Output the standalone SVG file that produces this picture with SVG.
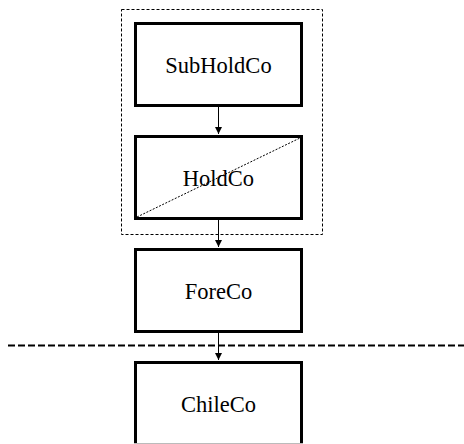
<svg xmlns="http://www.w3.org/2000/svg" width="464" height="444" viewBox="0 0 464 444">
<defs>
<marker id="ah" markerWidth="8" markerHeight="8" refX="7" refY="4" orient="auto" markerUnits="userSpaceOnUse">
<path d="M0,0.5 L7,4 L0,7.5 Z" fill="#000"/>
</marker>
<style>
.box{fill:#fff;stroke:#000;stroke-width:3}
.lbl{font-family:"Liberation Serif",serif;font-size:22.5px;text-anchor:middle;fill:#000}
.con{stroke:#000;stroke-width:1;fill:none}
</style>
</defs>
<rect x="0" y="0" width="464" height="444" fill="#fff"/>
<rect id="group" x="121.5" y="9.5" width="201" height="225" fill="none" stroke="#000" stroke-width="1" stroke-dasharray="3,2"/>
<line x1="8" y1="345.5" x2="464" y2="345.5" stroke="#000" stroke-width="2" stroke-dasharray="7,3"/>
<g id="SubHoldCo">
<rect class="box" x="135.5" y="23.5" width="166" height="82"/>
<text class="lbl" x="218.5" y="73">SubHoldCo</text>
</g>
<g id="HoldCo">
<rect class="box" x="135.5" y="136.5" width="166" height="82"/>
<line x1="137" y1="217" x2="300" y2="138" stroke="#000" stroke-width="1" stroke-dasharray="2,1.5"/>
<text class="lbl" x="218.5" y="186">HoldCo</text>
</g>
<g id="ForeCo">
<rect class="box" x="135.5" y="249.5" width="166" height="82"/>
<text class="lbl" x="218.5" y="299">ForeCo</text>
</g>
<g id="ChileCo">
<rect class="box" x="135.5" y="362.5" width="166" height="90"/>
<line x1="134" y1="443.5" x2="303" y2="443.5" stroke="#bbb" stroke-width="1"/>
<text class="lbl" x="218.5" y="412">ChileCo</text>
</g>
<g id="connectors">
<line class="con" x1="218.5" y1="107" x2="218.5" y2="134" marker-end="url(#ah)"/>
<line class="con" x1="218.5" y1="220" x2="218.5" y2="247" marker-end="url(#ah)"/>
<line class="con" x1="218.5" y1="333" x2="218.5" y2="360" marker-end="url(#ah)"/>
</g>
</svg>
